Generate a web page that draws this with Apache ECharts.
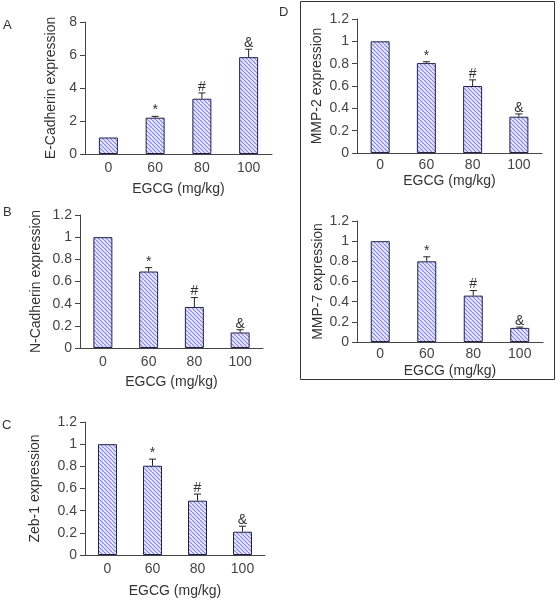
<!DOCTYPE html>
<html>
<head>
<meta charset="utf-8">
<script src="https://cdn.jsdelivr.net/npm/echarts@6/dist/echarts.min.js"></script>
<style>
html,body{margin:0;padding:0;background:#fff;}
#chart{width:559px;height:600px;}
</style>
</head>
<body>
<div id="chart"></div>
<script>
// ---- data ----
const categories = ['0', '60', '80', '100'];
const xName = 'EGCG (mg/kg)';
const marks = ['', '*', '#', '&'];

const eCadName = 'E-Cadherin expression';
const eCadValues = [1, 2.2, 3.35, 5.87];
const eCadErrors = [0, 0.08, 0.35, 0.48];

const nCadName = 'N-Cadherin expression';
const nCadValues = [1, 0.69, 0.37, 0.14];
const nCadErrors = [0, 0.035, 0.085, 0.025];

const zebName = 'Zeb-1 expression';
const zebValues = [1, 0.805, 0.49, 0.21];
const zebErrors = [0, 0.06, 0.06, 0.05];

const mmp2Name = 'MMP-2 expression';
const mmp2Values = [1, 0.805, 0.6, 0.325];
const mmp2Errors = [0, 0.012, 0.055, 0.025];

const mmp7Name = 'MMP-7 expression';
const mmp7Values = [1, 0.8, 0.46, 0.14];
const mmp7Errors = [0, 0.045, 0.05, 0.008];

const panelLetters = ['A', 'B', 'C', 'D'];

// ---- styling ----
const FONT = 'Liberation Sans, Arial, sans-serif';
const AX = '#444';

function makePattern() {
  const c = document.createElement('canvas');
  c.width = 4; c.height = 4;
  const ctx = c.getContext('2d');
  ctx.fillStyle = '#eaeafc';
  ctx.fillRect(0, 0, 4, 4);
  ctx.strokeStyle = '#8686e2';
  ctx.lineWidth = 1.2;
  ctx.beginPath();
  for (let k = -4; k <= 4; k += 4) {
    ctx.moveTo(k, 0); ctx.lineTo(k + 4, 4);
  }
  ctx.stroke();
  return c;
}
const pattern = { image: makePattern(), repeat: 'repeat' };

const panels = [
  { name: eCadName, values: eCadValues, errors: eCadErrors, max: 8, interval: 2,
    grid: { left: 85, top: 22, width: 187, height: 132 }, yGap: 27, xGap: 28, labelMargin: 7 },
  { name: nCadName, values: nCadValues, errors: nCadErrors, max: 1.2, interval: 0.2,
    grid: { left: 80, top: 215, width: 183, height: 133 }, yGap: 37, xGap: 27, labelMargin: 7 },
  { name: zebName, values: zebValues, errors: zebErrors, max: 1.2, interval: 0.2,
    grid: { left: 85, top: 422, width: 180, height: 133 }, yGap: 43, xGap: 29, labelMargin: 7 },
  { name: mmp2Name, values: mmp2Values, errors: mmp2Errors, max: 1.2, interval: 0.2,
    grid: { left: 357, top: 19, width: 185, height: 134 }, yGap: 33, xGap: 21, labelMargin: 5 },
  { name: mmp7Name, values: mmp7Values, errors: mmp7Errors, max: 1.2, interval: 0.2,
    grid: { left: 357, top: 221, width: 186, height: 121 }, yGap: 24, xGap: 22, labelMargin: 5 }
];

const grids = [], xAxes = [], yAxes = [], series = [];
panels.forEach((p, i) => {
  grids.push(Object.assign({ containLabel: false }, p.grid));
  xAxes.push({
    type: 'category', gridIndex: i, data: categories, boundaryGap: true,
    name: xName, nameLocation: 'middle', nameGap: p.xGap,
    nameTextStyle: { fontFamily: FONT, fontSize: 14, color: '#333' },
    axisLine: { lineStyle: { color: AX, width: 1 } },
    axisTick: { show: false },
    axisLabel: { fontFamily: FONT, fontSize: 14, color: '#444', margin: p.labelMargin }
  });
  yAxes.push({
    type: 'value', gridIndex: i, min: 0, max: p.max, interval: p.interval,
    name: p.name, nameLocation: 'middle', nameGap: p.yGap, nameRotate: 90,
    nameTextStyle: { fontFamily: FONT, fontSize: 14, color: '#333' },
    axisLine: { show: true, lineStyle: { color: AX, width: 1 } },
    axisTick: { show: true, inside: false, length: 5, lineStyle: { color: AX } },
    splitLine: { show: false },
    axisLabel: { fontFamily: FONT, fontSize: 14, color: '#444', margin: 8 }
  });
  series.push({
    type: 'bar', xAxisIndex: i, yAxisIndex: i, data: p.values, barWidth: 19,
    itemStyle: { color: pattern, borderColor: '#22224a', borderWidth: 1 },
    silent: true, animation: false
  });
  const errs = p.errors;
  series.push({
    type: 'custom', xAxisIndex: i, yAxisIndex: i, animation: false, silent: true,
    data: p.values.map((v, k) => [k, v, errs[k]]),
    renderItem: function (params, api) {
      const k = api.value(0), v = api.value(1), e = api.value(2);
      const base = api.coord([k, v]);
      const top = api.coord([k, v + e]);
      const children = [];
      if (e > 0) {
        children.push({ type: 'line', shape: { x1: base[0], y1: base[1], x2: top[0], y2: top[1] },
          style: { stroke: '#222', lineWidth: 1 } });
        children.push({ type: 'line', shape: { x1: top[0] - 3.5, y1: top[1], x2: top[0] + 3.5, y2: top[1] },
          style: { stroke: '#222', lineWidth: 1 } });
      }
      const m = marks[params.dataIndex];
      if (m) {
        children.push({ type: 'text', style: { text: m, x: top[0], y: top[1] + 1,
          textAlign: 'center', textVerticalAlign: 'bottom',
          fontFamily: FONT, fontSize: 14, fill: '#333' } });
      }
      return { type: 'group', children: children };
    }
  });
});

const chart = echarts.init(document.getElementById('chart'), null, { renderer: 'canvas' });
chart.setOption({
  backgroundColor: '#fff',
  animation: false,
  grid: grids, xAxis: xAxes, yAxis: yAxes, series: series,
  graphic: [
    { type: 'rect', shape: { x: 300.5, y: 1.5, width: 254, height: 378 },
      style: { fill: 'none', stroke: '#333', lineWidth: 1 }, silent: true },
    { type: 'text', left: 3, top: 19, style: { text: panelLetters[0], fontFamily: FONT, fontSize: 13, fill: '#333' } },
    { type: 'text', left: 3, top: 206, style: { text: panelLetters[1], fontFamily: FONT, fontSize: 13, fill: '#333' } },
    { type: 'text', left: 2, top: 419, style: { text: panelLetters[2], fontFamily: FONT, fontSize: 13, fill: '#333' } },
    { type: 'text', left: 279, top: 6, style: { text: panelLetters[3], fontFamily: FONT, fontSize: 13, fill: '#333' } }
  ]
});
</script>
</body>
</html>
